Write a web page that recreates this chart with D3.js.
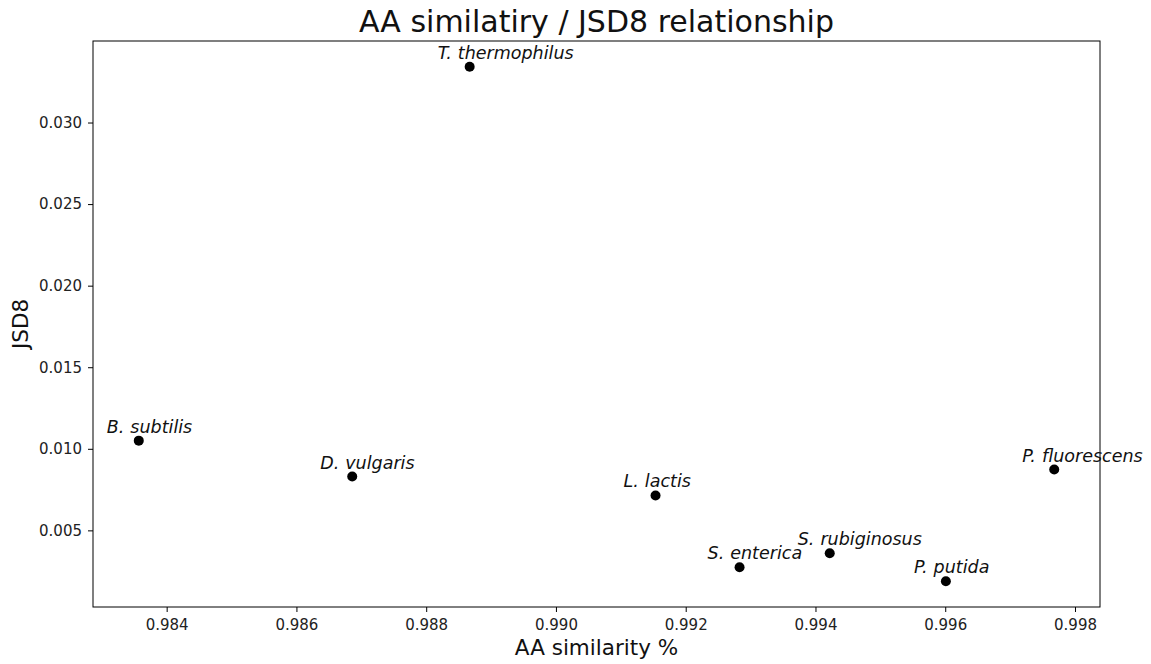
<!DOCTYPE html>
<html><head><meta charset="utf-8">
<script src="https://cdn.jsdelivr.net/npm/d3@7"></script>
<style>body{margin:0;background:#fff}</style>
</head><body>
<svg id="c" width="1151" height="664"></svg>
<script>
const genus = ["B.", "D.", "T.", "L.", "S.", "S.", "P.", "P."];
const species = ["subtilis", "vulgaris", "thermophilus", "lactis", "enterica", "rubiginosus", "putida", "fluorescens"];
const aaSimilarity = [0.98357, 0.98686, 0.98867, 0.991535, 0.99283, 0.99422, 0.99601, 0.99768];
const jsd8 = [0.01050, 0.00830, 0.03342, 0.00714, 0.00274, 0.00360, 0.00188, 0.00873];
const xTicks = [0.984, 0.986, 0.988, 0.990, 0.992, 0.994, 0.996, 0.998];
const yTicks = [0.005, 0.010, 0.015, 0.020, 0.025, 0.030];

const L = 93, R = 1100, T = 41, B = 607;
const svg = d3.select("#c");
const font = "DejaVu Sans, sans-serif";

const xr = d3.extent(aaSimilarity), yr = d3.extent(jsd8);
const xm = (xr[1]-xr[0])*0.05, ym = (yr[1]-yr[0])*0.05;
const x = d3.scaleLinear().domain([xr[0]-xm, xr[1]+xm]).range([L, R]);
const y = d3.scaleLinear().domain([yr[0]-ym, yr[1]+ym]).range([B, T]);

const xAxis = svg.append("g").attr("transform", `translate(0,${B})`)
  .call(d3.axisBottom(x).tickValues(xTicks).tickFormat(d3.format(".3f")).tickSize(5).tickPadding(7));
const yAxis = svg.append("g").attr("transform", `translate(${L},0)`)
  .call(d3.axisLeft(y).tickValues(yTicks).tickFormat(d3.format(".3f")).tickSize(5).tickPadding(6));
[xAxis, yAxis].forEach(a => {
  a.select(".domain").remove();
  a.selectAll("line").attr("stroke", "#000").attr("stroke-width", 1);
  a.selectAll("text").attr("font-family", font).attr("font-size", 15).attr("fill", "#222");
});

svg.append("rect").attr("x", L).attr("y", T).attr("width", R-L).attr("height", B-T)
  .attr("fill", "none").attr("stroke", "#000").attr("stroke-width", 1);

svg.selectAll("circle.pt").data(aaSimilarity).enter().append("circle")
  .attr("cx", (d) => x(d)).attr("cy", (d, i) => y(jsd8[i])).attr("r", 5).attr("fill", "#000");

const lab = svg.selectAll("text.lab").data(aaSimilarity).enter().append("text")
  .attr("x", (d) => x(d) - 32).attr("y", (d, i) => y(jsd8[i]) - 8)
  .attr("font-family", font).attr("font-style", "italic").attr("font-size", 17.5).attr("fill", "#111");
lab.append("tspan").text((d, i) => genus[i]);
lab.append("tspan").attr("dx", 6).text((d, i) => species[i]);

svg.append("text").attr("x", (L+R)/2).attr("y", 32).attr("text-anchor", "middle")
  .attr("font-family", font).attr("font-size", 30).attr("fill", "#111").text("AA similatiry / JSD8 relationship");
svg.append("text").attr("x", (L+R)/2).attr("y", 655).attr("text-anchor", "middle")
  .attr("font-family", font).attr("font-size", 21.5).attr("fill", "#111").text("AA similarity %");
svg.append("text").attr("transform", `translate(28,${(T+B)/2}) rotate(-90)`).attr("text-anchor", "middle")
  .attr("font-family", font).attr("font-size", 21.5).attr("fill", "#111").text("JSD8");
</script>
</body></html>
